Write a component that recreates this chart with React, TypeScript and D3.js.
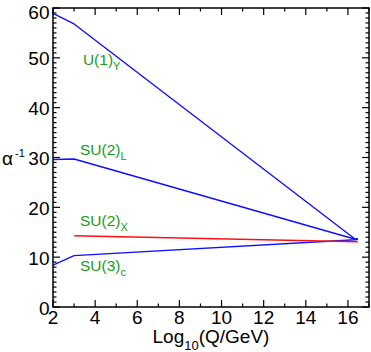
import React from "react";
import * as d3 from "d3";

const W = 371;
const H = 352;

const xDomain = [2, 17];
const yDomain = [0, 60];
const xTickLabels = [2, 4, 6, 8, 10, 12, 14, 16];
const yTickLabels = [0, 10, 20, 30, 40, 50, 60];

const logQ_U1 = [2, 3, 16.35, 16.47];
const alphaInv_U1 = [58.9, 56.8, 13.6, 13.65];
const logQ_SU2 = [2, 3, 16.35, 16.47];
const alphaInv_SU2 = [29.6, 29.7, 13.6, 13.65];
const logQ_SU3 = [2, 3, 16.35, 16.47];
const alphaInv_SU3 = [8.4, 10.3, 13.5, 13.6];
const logQ_SU2X = [3, 16.47];
const alphaInv_SU2X = [14.3, 13.1];

const labels = [
  { main: "U(1)", sub: "Y", x: 3.42, y: 48.6 },
  { main: "SU(2)", sub: "L", x: 3.28, y: 30.5 },
  { main: "SU(2)", sub: "X", x: 3.28, y: 16.3 },
  { main: "SU(3)", sub: "c", x: 3.28, y: 7.2 },
];

const M = { left: 53, right: 369, top: 8, bottom: 307 };
const FONT = "'Liberation Sans', Arial, Helvetica, sans-serif";

export default function App() {
  const x = d3.scaleLinear().domain(xDomain).range([M.left, M.right]);
  const y = d3.scaleLinear().domain(yDomain).range([M.bottom, M.top]);
  const line = d3
    .line<[number, number]>()
    .x((d) => x(d[0]))
    .y((d) => y(d[1]));
  const zip = (a: number[], b: number[]) => a.map((v, i) => [v, b[i]] as [number, number]);

  const xMinor = d3.range(2, 18, 1);
  const yMinor = d3.range(0, 61, 1);
  const majLen = 7;
  const minLen = 3.5;

  return (
    <svg width={W} height={H} style={{ position: "absolute", left: 0, top: 0 }} fontFamily={FONT}>
      <rect x={0} y={0} width={W} height={H} fill="#fff" />
      {/* ticks */}
      <g stroke="#000" strokeWidth={1.2}>
        {xMinor.map((v) => {
          const len = v % 2 === 0 ? majLen : minLen;
          return (
            <g key={"xt" + v}>
              <line x1={x(v)} x2={x(v)} y1={M.bottom} y2={M.bottom - len} />
              <line x1={x(v)} x2={x(v)} y1={M.top} y2={M.top + len} />
            </g>
          );
        })}
        {yMinor.map((v) => {
          const len = v % 10 === 0 ? majLen : minLen;
          return (
            <g key={"yt" + v}>
              <line x1={M.left} x2={M.left + len} y1={y(v)} y2={y(v)} />
              <line x1={M.right} x2={M.right - len} y1={y(v)} y2={y(v)} />
            </g>
          );
        })}
      </g>
      {/* lines */}
      <g fill="none" strokeWidth={1.4} strokeLinejoin="round">
        <path d={line(zip(logQ_U1, alphaInv_U1)) || ""} stroke="#1010ff" />
        <path d={line(zip(logQ_SU2, alphaInv_SU2)) || ""} stroke="#1010ff" />
        <path d={line(zip(logQ_SU3, alphaInv_SU3)) || ""} stroke="#1010ff" />
        <path d={line(zip(logQ_SU2X, alphaInv_SU2X)) || ""} stroke="#ff1010" />
      </g>
      {/* frame */}
      <rect
        x={M.left}
        y={M.top}
        width={M.right - M.left}
        height={M.bottom - M.top}
        fill="none"
        stroke="#000"
        strokeWidth={1.5}
      />
      {/* tick labels */}
      <g fontSize={19} fill="#000">
        {xTickLabels.map((v) => (
          <text key={"xl" + v} x={x(v)} y={M.bottom + 16.5} textAnchor="middle">
            {v}
          </text>
        ))}
        {yTickLabels.map((v) => (
          <text key={"yl" + v} x={M.left - 3.5} y={y(v) + (v === 60 ? 10.5 : 7.5)} textAnchor="end">
            {v}
          </text>
        ))}
      </g>
      {/* axis titles */}
      <text x={152.5} y={342.5} fontSize={19} fill="#000">
        Log
        <tspan fontSize={13} dy={7}>10</tspan>
        <tspan dy={-7}>(Q/GeV)</tspan>
      </text>
      <text x={2} y={165} fontSize={19} fill="#000">
        α
        <tspan fontSize={11} dy={-8} dx={2}>-1</tspan>
      </text>
      {/* series labels */}
      <g fill="#1a9a1a" fontSize={15.5}>
        {labels.map((l, i) => (
          <text key={"lb" + i} x={x(l.x)} y={y(l.y)}>
            {l.main}
            <tspan fontSize={11} dy={5}>{l.sub}</tspan>
          </text>
        ))}
      </g>
    </svg>
  );
}
